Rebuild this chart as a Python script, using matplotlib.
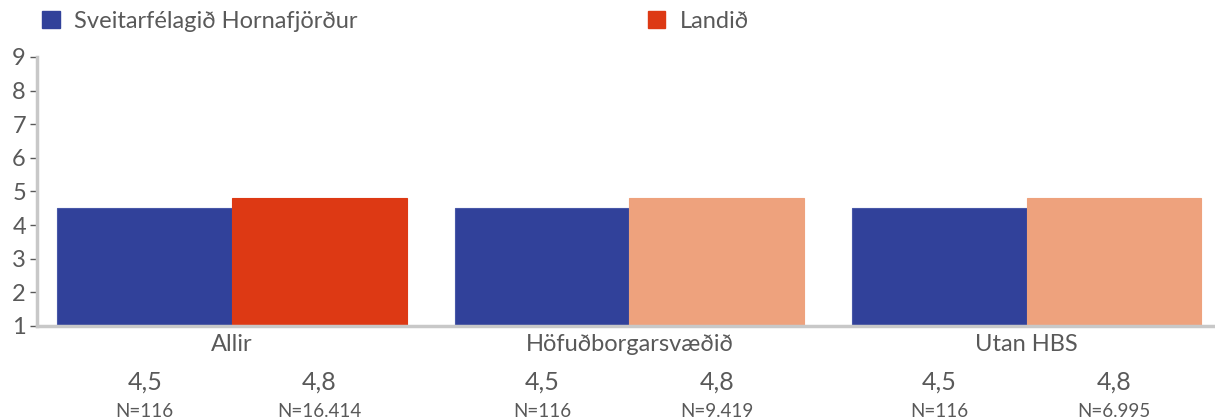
import matplotlib.pyplot as plt
from matplotlib.patches import Patch
from matplotlib.transforms import blended_transform_factory

plt.rcParams['font.family'] = ['Lato', 'DejaVu Sans']

categories = ['Allir', 'Höfuðborgarsvæðið', 'Utan HBS']
series_names = ['Sveitarfélagið Hornafjörður', 'Landið']
local_vals = [4.5, 4.5, 4.5]
national_vals = [4.8, 4.8, 4.8]
local_n = ['N=116', 'N=116', 'N=116']
national_n = ['N=16.414', 'N=9.419', 'N=6.995']
value_fmt = lambda v: f'{v:.1f}'.replace('.', ',')

blue = '#31419a'
red = '#dd3914'
salmon = '#eea27d'
grey_text = '#595959'
spine = '#c8c8c8'

fig = plt.figure(figsize=(12.15, 4.19), dpi=100)
ax = fig.add_axes([0.0305, 0.222, 0.9695, 0.642])

w = 0.44
x = list(range(len(categories)))
ax.bar([i - w / 2 for i in x], local_vals, width=w, color=blue, edgecolor='#4858a8', linewidth=0.8)
nat_colors = [red] + [salmon] * (len(categories) - 1)
ax.bar([i + w / 2 for i in x], national_vals, width=w, color=nat_colors, edgecolor=nat_colors, linewidth=0.8)

ax.set_ylim(1, 9)
ax.set_xlim(-0.491, 2.474)
ax.set_yticks(range(1, 10))
ax.set_xticks([])
ax.tick_params(axis='y', colors=grey_text, labelsize=17, length=5, width=1, pad=3)
for s in ['top', 'right']:
    ax.spines[s].set_visible(False)
for s in ['left', 'bottom']:
    ax.spines[s].set_color(spine)
    ax.spines[s].set_linewidth(2.5)

tr = blended_transform_factory(ax.transData, ax.transAxes)
for i, cat in enumerate(categories):
    ax.text(i, -0.03, cat, transform=tr, ha='center', va='top', fontsize=17, color=grey_text)
    for xpos, v, n in [(i - w / 2, local_vals[i], local_n[i]), (i + w / 2, national_vals[i], national_n[i])]:
        ax.text(xpos, -0.165, value_fmt(v), transform=tr, ha='center', va='top', fontsize=18, color=grey_text)
        ax.text(xpos, -0.285, n, transform=tr, ha='center', va='top', fontsize=13.5, color=grey_text)

handles = [Patch(color=blue), Patch(color=red)]
fig.legend(handles, series_names, loc='upper left', bbox_to_anchor=(0.017, 1.025), ncol=2,
           frameon=False, fontsize=17, labelcolor=grey_text, handlelength=0.75, handleheight=0.75,
           handletextpad=0.6, columnspacing=12.3)

fig.savefig('out.png', dpi=100)
